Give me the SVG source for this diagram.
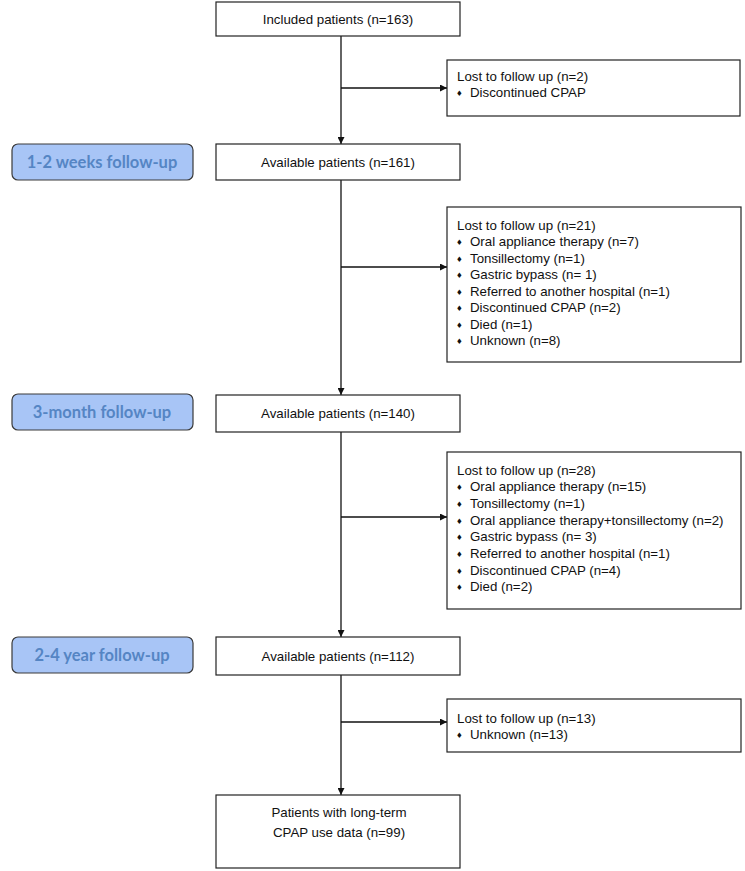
<svg xmlns="http://www.w3.org/2000/svg" width="745" height="871" viewBox="0 0 745 871">
<style>
.box{fill:#fff;stroke:#222;stroke-width:1.2}
.lab{fill:#a8c5f6;stroke:#3a3a3a;stroke-width:1.2}
.t{font-family:"Liberation Sans",Arial,sans-serif;font-size:13.3px;fill:#111}
.c{text-anchor:middle}
.b{font-family:"DejaVu Sans",sans-serif;font-size:7.5px;fill:#111}
.lt{font-family:Lato,"Open Sans",sans-serif;font-weight:700;font-size:16.5px;fill:#5585c4;text-anchor:middle}
.ln{stroke:#111;stroke-width:1.3;fill:none}
</style>
<defs>
<marker id="ah" viewBox="0 0 10 10" refX="10" refY="5" markerWidth="7" markerHeight="7" markerUnits="userSpaceOnUse" orient="auto">
<path d="M0,0 L10,5 L0,10 z" fill="#111"/>
</marker>
</defs>
<g id="connectors">
<line class="ln" x1="341" y1="36" x2="341" y2="144" marker-end="url(#ah)"/>
<line class="ln" x1="341" y1="88" x2="447" y2="88" marker-end="url(#ah)"/>
<line class="ln" x1="341" y1="180" x2="341" y2="395" marker-end="url(#ah)"/>
<line class="ln" x1="341" y1="267" x2="447" y2="267" marker-end="url(#ah)"/>
<line class="ln" x1="341" y1="432" x2="341" y2="637" marker-end="url(#ah)"/>
<line class="ln" x1="341" y1="517" x2="447" y2="517" marker-end="url(#ah)"/>
<line class="ln" x1="341" y1="675" x2="341" y2="795" marker-end="url(#ah)"/>
<line class="ln" x1="341" y1="722" x2="447" y2="722" marker-end="url(#ah)"/>
</g>
<g id="included">
<rect class="box" x="216" y="2" width="244" height="34"/>
<text class="t c" x="338" y="24">Included patients (n=163)</text>
</g>
<g id="lost1">
<rect class="box" x="447" y="60" width="293" height="56"/>
<text class="t" x="457" y="81">Lost to follow up (n=2)</text>
<text class="b" x="456" y="96">♦</text><text class="t" x="470" y="97">Discontinued CPAP</text>
</g>
<g id="label1">
<rect class="lab" x="12" y="144" width="181" height="36" rx="6"/>
<text class="lt" x="102" y="167.5">1-2 weeks follow-up</text>
</g>
<g id="avail161">
<rect class="box" x="216" y="144" width="244" height="36"/>
<text class="t c" x="338" y="166.5">Available patients (n=161)</text>
</g>
<g id="lost2">
<rect class="box" x="447" y="207" width="294" height="155"/>
<text class="t" x="457" y="229.5">Lost to follow up (n=21)</text>
<text class="b" x="456" y="245">♦</text><text class="t" x="470" y="246">Oral appliance therapy (n=7)</text>
<text class="b" x="456" y="261.5">♦</text><text class="t" x="470" y="262.5">Tonsillectomy (n=1)</text>
<text class="b" x="456" y="278">♦</text><text class="t" x="470" y="279">Gastric bypass (n= 1)</text>
<text class="b" x="456" y="294.5">♦</text><text class="t" x="470" y="295.5">Referred to another hospital (n=1)</text>
<text class="b" x="456" y="311">♦</text><text class="t" x="470" y="312">Discontinued CPAP (n=2)</text>
<text class="b" x="456" y="327.5">♦</text><text class="t" x="470" y="328.5">Died (n=1)</text>
<text class="b" x="456" y="344">♦</text><text class="t" x="470" y="345">Unknown (n=8)</text>
</g>
<g id="label2">
<rect class="lab" x="12" y="394" width="181" height="36" rx="6"/>
<text class="lt" x="102" y="417.5">3-month follow-up</text>
</g>
<g id="avail140">
<rect class="box" x="216" y="395" width="244" height="37"/>
<text class="t c" x="338" y="418">Available patients (n=140)</text>
</g>
<g id="lost3">
<rect class="box" x="447" y="452" width="294" height="157"/>
<text class="t" x="457" y="474.5">Lost to follow up (n=28)</text>
<text class="b" x="456" y="490">♦</text><text class="t" x="470" y="491">Oral appliance therapy (n=15)</text>
<text class="b" x="456" y="507">♦</text><text class="t" x="470" y="508">Tonsillectomy (n=1)</text>
<text class="b" x="456" y="523.5">♦</text><text class="t" x="470" y="524.5">Oral appliance therapy+tonsillectomy (n=2)</text>
<text class="b" x="456" y="540">♦</text><text class="t" x="470" y="541">Gastric bypass (n= 3)</text>
<text class="b" x="456" y="557">♦</text><text class="t" x="470" y="558">Referred to another hospital (n=1)</text>
<text class="b" x="456" y="573.5">♦</text><text class="t" x="470" y="574.5">Discontinued CPAP (n=4)</text>
<text class="b" x="456" y="590">♦</text><text class="t" x="470" y="591">Died (n=2)</text>
</g>
<g id="label3">
<rect class="lab" x="12" y="637" width="181" height="36" rx="6"/>
<text class="lt" x="102" y="660.5">2-4 year follow-up</text>
</g>
<g id="avail112">
<rect class="box" x="216" y="637" width="244" height="38"/>
<text class="t c" x="338" y="660.5">Available patients (n=112)</text>
</g>
<g id="lost4">
<rect class="box" x="447" y="699" width="294" height="53"/>
<text class="t" x="457" y="722.5">Lost to follow up (n=13)</text>
<text class="b" x="456" y="737.5">♦</text><text class="t" x="470" y="738.5">Unknown (n=13)</text>
</g>
<g id="final">
<rect class="box" x="216" y="795" width="244" height="73"/>
<text class="t c" x="339" y="816.5">Patients with long-term</text>
<text class="t c" x="339" y="836.5">CPAP use data (n=99)</text>
</g>
</svg>
